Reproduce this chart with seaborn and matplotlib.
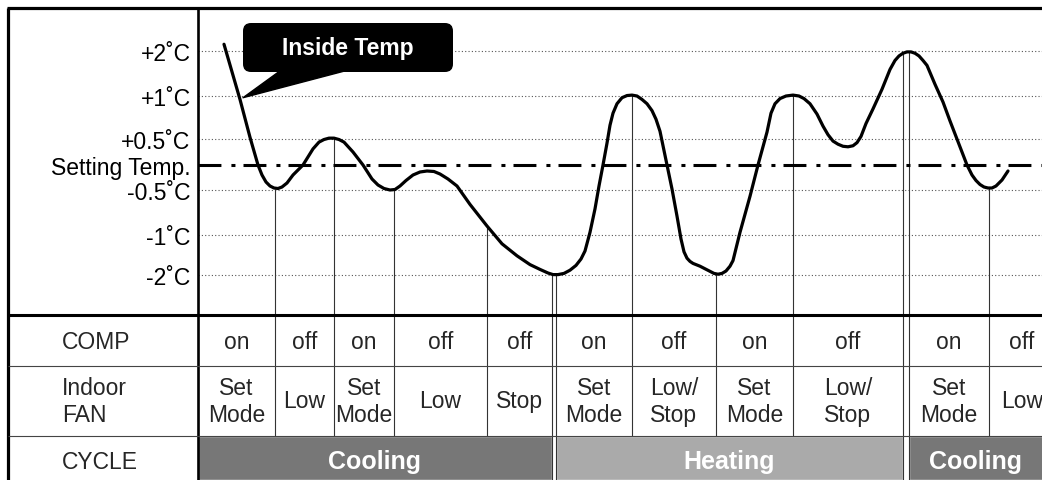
import numpy as np
import matplotlib
matplotlib.use("Agg")
import matplotlib.pyplot as plt
import seaborn as sns
from matplotlib.patches import FancyBboxPatch

# inside temperature, time units from the left edge of the chart, degrees from setting temp
time = [26, 42, 52, 60, 64, 68, 72, 76, 80, 84,
        89, 95, 105, 115, 121, 126, 131, 136, 141, 146,
        155, 165, 174, 180, 186, 192, 197, 202, 208, 215,
        222, 229, 236, 242, 250, 259, 272, 289, 304, 319,
        332, 342, 350, 355, 360, 366, 372, 378, 383, 387,
        392, 397, 401, 405, 409, 412, 415, 419, 424, 429,
        434, 439, 444, 449, 454, 458, 462, 469, 474, 479,
        483, 486, 489, 492, 495, 502, 512, 516, 520, 524,
        528, 532, 535, 538, 542, 547, 552, 560, 569, 573,
        577, 582, 588, 595, 601, 606, 612, 619, 625, 630,
        635, 640, 645, 650, 655, 659, 663, 668, 675, 684,
        692, 697, 701, 705, 709, 713, 717, 721, 725, 729,
        737, 745, 752, 759, 764, 769, 774, 778, 782, 786,
        790, 794, 798, 804, 810]
temp = [2.15, 0.96, 0.52, 0.0, -0.20, -0.34, -0.42, -0.46, -0.47, -0.44,
        -0.36, -0.20, 0.0, 0.31, 0.44, 0.49, 0.51, 0.51, 0.49, 0.44,
        0.25, 0.0, -0.28, -0.40, -0.47, -0.50, -0.49, -0.42, -0.31, -0.20,
        -0.14, -0.12, -0.13, -0.18, -0.28, -0.42, -0.66, -0.90, -1.22, -1.52,
        -1.74, -1.86, -1.95, -1.99, -1.99, -1.96, -1.88, -1.76, -1.60, -1.40,
        -0.97, -0.71, -0.42, 0.0, 0.42, 0.66, 0.80, 0.91, 0.98, 1.01,
        1.02, 1.0, 0.96, 0.91, 0.83, 0.73, 0.59, 0.0, -0.48, -0.79,
        -1.10, -1.42, -1.58, -1.66, -1.71, -1.78, -1.91, -1.96, -1.98, -1.96,
        -1.90, -1.78, -1.64, -1.34, -0.97, -0.77, -0.57, 0.0, 0.58, 0.80,
        0.91, 0.97, 1.0, 1.02, 1.0, 0.97, 0.91, 0.79, 0.65, 0.55,
        0.46, 0.40, 0.36, 0.35, 0.37, 0.43, 0.53, 0.68, 0.85, 1.15,
        1.59, 1.79, 1.89, 1.95, 1.98, 1.98, 1.95, 1.89, 1.79, 1.68,
        1.26, 0.93, 0.71, 0.50, 0.25, 0.0, -0.20, -0.31, -0.39, -0.44,
        -0.46, -0.46, -0.42, -0.30, -0.12]

# moments where the unit changes state, and the temperature there
switch_time = [77, 136, 196, 289, 353.5, 358, 434, 518, 595, 705, 711, 791]
switch_temp = [-0.47, 0.51, -0.5, -0.9, -2.0, -2.0, 1.02, -1.98, 1.02, 1.95, 1.97, -0.46]
end_time = 857

comp_state = ["on", "off", "on", "off", "off", "on", "off", "on", "off", "on", "off"]
fan_state = ["Set\nMode", "Low", "Set\nMode", "Low", "Stop", "Set\nMode", "Low/\nStop",
             "Set\nMode", "Low/\nStop", "Set\nMode", "Low"]
cycle_names = ["Cooling", "Heating", "Cooling"]
cycle_start = [0, 358, 711]
cycle_end = [353.5, 705, 857]
cycle_colors = ["#777777", "#aaaaaa", "#777777"]

tick_temps = [2, 1, 0.5, 0, -0.5, -1, -2]
tick_labels = ["+2˚C", "+1˚C", "+0.5˚C", "Setting Temp.", "-0.5˚C", "-1˚C", "-2˚C"]

# the temperature axis of the drawing is not linear
scale_temp = [-4, -2, -1, -0.5, 0, 0.5, 1, 2, 4]
scale_pos = [-190, -110, -70, -25, 0, 26, 69, 114, 204]

sns.set_theme(style="white")
plt.rcParams["font.family"] = ["Liberation Sans", "DejaVu Sans"]
plt.rcParams["lines.scale_dashes"] = False
FS = 16.5

W, H = 1042, 481
fig = plt.figure(figsize=(W / 100, H / 100), dpi=100)
fig.patch.set_facecolor("white")


def px_box(x0, y0, x1, y1):
    return [x0 / W, 1 - y1 / H, (x1 - x0) / W, (y1 - y0) / H]


ax = fig.add_axes(px_box(198, 9, 1042, 315))
tab = fig.add_axes(px_box(198, 315, 1042, 481))

fwd = lambda t: np.interp(t, scale_temp, scale_pos)
inv = lambda p: np.interp(p, scale_pos, scale_temp)

# chart
sns.lineplot(x=time, y=temp, ax=ax, color="black", linewidth=2.3,
             estimator=None, sort=False, zorder=5, solid_joinstyle="round")
ax.set_yscale("function", functions=(fwd, inv))
ax.set_xlim(0, 844)
bottom, top = float(inv(-149)), float(inv(157))
ax.set_ylim(bottom, top)

ax.hlines([t for t in tick_temps if t != 0], 0, 844, colors="#555555",
          linewidth=0.8, linestyles=(0, (0.8, 1.6)), zorder=1)
ax.axhline(0, color="black", linewidth=2.2, dashes=(16.5, 7.2, 2.9, 5.8), zorder=3)
ax.vlines(switch_time, bottom, switch_temp, colors="#333333", linewidth=0.8, zorder=2)

ax.set_xticks([])
ax.set_yticks(tick_temps, tick_labels)
ax.tick_params(axis="y", length=0, pad=5.4, labelsize=FS, labelcolor="black")
ax.set_xlabel("")
ax.set_ylabel("")
for s in ax.spines.values():
    s.set_visible(False)

# table under the chart
tab.set_xlim(0, 844)
tab.set_ylim(166, 0)
tab.axis("off")

edges = [0] + switch_time + [end_time]
cols = [(a, b) for a, b in zip(edges[:-1], edges[1:]) if b - a > 10]
for (a, b), c, f in zip(cols, comp_state, fan_state):
    tab.text((a + b) / 2, 28, c, ha="center", va="center", fontsize=FS)
    tab.text((a + b) / 2, 87, f, ha="center", va="center", fontsize=FS,
             multialignment="center")

tab.barh(144, [e - s for s, e in zip(cycle_start, cycle_end)], left=cycle_start,
         height=44, color=cycle_colors)
for name, s, e in zip(cycle_names, cycle_start, cycle_end):
    tab.text((s + min(e, 844)) / 2, 147, name, ha="center", va="center",
             fontsize=18, fontweight="bold", color="white")

bounds = cycle_end[:-1] + cycle_start[1:]
tab.vlines([t for t in switch_time if t not in bounds], 0, 122,
           colors="#333333", linewidth=0.8)
tab.vlines(bounds, 0, 166, colors="#333333", linewidth=0.8)

# frame, row labels and callout
ov = fig.add_axes([0, 0, 1, 1])
ov.set_xlim(0, W)
ov.set_ylim(H, 0)
ov.axis("off")
ov.set_zorder(3)

ov.hlines(9, 7, W, color="black", linewidth=2.3)
ov.vlines(8, 9, H, color="black", linewidth=2.3)
ov.vlines(197.5, 9, H, color="black", linewidth=1.9)
ov.hlines(315.5, 8, W, color="black", linewidth=2.2)
ov.hlines([367, 437], 8, W, color="#444444", linewidth=0.8)

ov.text(62, 343, "COMP", ha="left", va="center", fontsize=FS)
ov.text(62, 402, "Indoor\nFAN", ha="left", va="center", fontsize=FS)
ov.text(62, 463, "CYCLE", ha="left", va="center", fontsize=FS)

ov.add_patch(FancyBboxPatch((243, 24), 210, 49, boxstyle="round,pad=0,rounding_size=8",
                            fc="black", ec="none", zorder=4))
ov.annotate("Inside Temp", xy=(45, 0.98), xycoords=ax.transData,
            xytext=(348, 49), textcoords="data", ha="center", va="center",
            color="white", fontsize=FS, fontweight="bold", zorder=5,
            arrowprops=dict(arrowstyle="wedge,tail_width=1.9", fc="black", ec="black",
                            patchA=None, shrinkA=0, shrinkB=0))

fig.savefig("out.png", dpi=100, facecolor="white")
